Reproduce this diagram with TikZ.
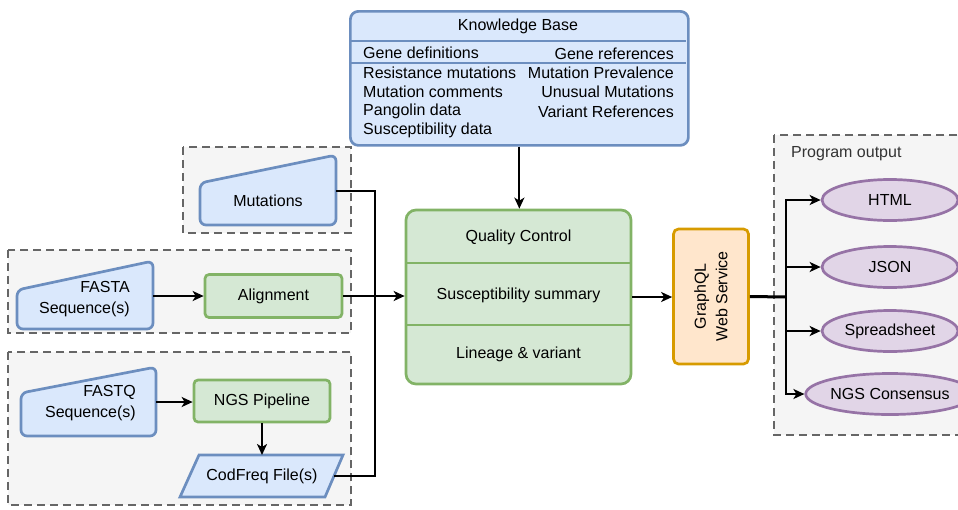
\documentclass[tikz,border=0pt]{standalone}
\usepackage{fontspec}
\setmainfont{Liberation Sans}
\usetikzlibrary{shapes.geometric,arrows.meta}
\definecolor{bluefill}{HTML}{DAE8FC}
\definecolor{bluedraw}{HTML}{6C8EBF}
\definecolor{greenfill}{HTML}{D5E8D4}
\definecolor{greendraw}{HTML}{82B366}
\definecolor{purplefill}{HTML}{E1D5E7}
\definecolor{purpledraw}{HTML}{9673A6}
\definecolor{orangefill}{HTML}{FFE6CC}
\definecolor{orangedraw}{HTML}{D79B00}
\definecolor{groupfill}{HTML}{F5F5F5}
\definecolor{groupdraw}{HTML}{666666}
\begin{document}
\begin{tikzpicture}[x=1pt,y=-1pt,
 font=\fontsize{16}{21.5}\selectfont,
 group/.style={draw=groupdraw, fill=groupfill, line width=2.7pt, dash pattern=on 8pt off 5pt},
 bluebox/.style={draw=bluedraw, fill=bluefill, line width=2.7pt, rounded corners=6pt, line join=round},
 greenbox/.style={draw=greendraw, fill=greenfill, line width=2.7pt, rounded corners=4pt, inner sep=0pt},
 outell/.style={ellipse, draw=purpledraw, fill=purplefill, line width=2.7pt, minimum width=136pt, minimum height=41pt, inner sep=0pt},
 conn/.style={line width=2pt},
 arr/.style={conn, -{Stealth[length=11pt,width=10pt,inset=3pt]}},
 txt/.style={inner sep=0pt}
]
\useasboundingbox (0,0) rectangle (958,509);
\clip (0,0) rectangle (958,509);

% groups
\draw[group] (183,147) rectangle (351,233);
\draw[group] (8,250) rectangle (351,333);
\draw[group] (8,352) rectangle (351,505);
\draw[group] (774,135) rectangle (975,435);
\node[txt, anchor=west, text=black!80] (pout) at (791,154) {Program output};

% knowledge base
\node[bluebox, rounded corners=8pt, minimum width=338pt, minimum height=134pt, anchor=north west, inner sep=0pt] (kb) at (349,10) {};
\draw[bluedraw, line width=2.7pt] (350.4,41) -- (685.6,41);
\draw[bluedraw, line width=2pt] (350.4,63) -- (685.6,63);
\node[txt] (kbt) at (518,26) {Knowledge Base};
\node[txt, anchor=west] (k1) at (363,53) {Gene definitions};
\node[txt, anchor=west] (k2) at (363,73) {Resistance mutations};
\node[txt, anchor=west] (k3) at (363,92) {Mutation comments};
\node[txt, anchor=west] (k4) at (363,111) {Pangolin data};
\node[txt, anchor=west] (k5) at (363,130.5) {Susceptibility data};
\node[txt, anchor=east] (k6) at (674,54) {Gene references};
\node[txt, anchor=east] (k7) at (674,73) {Mutation Prevalence};
\node[txt, anchor=east] (k8) at (674,92) {Unusual Mutations};
\node[txt, anchor=east] (k9) at (674,112) {Variant References};

% mutations
\draw[bluebox] (200,183) -- (336,155) -- (336,225) -- (200,225) -- cycle;
\node[txt] (mut) at (268,201) {Mutations};
\coordinate (mutout) at (336,191);

% FASTA
\draw[bluebox] (17,290) -- (153,261) -- (153,329) -- (17,329) -- cycle;
\node[txt, anchor=east, align=right] (fasta) at (130,299) {FASTA\\Sequence(s)};
\coordinate (fastaout) at (153,296);
\node[greenbox, minimum width=137pt, minimum height=43pt] (align) at (273.5,296) {Alignment};

% FASTQ
\draw[bluebox] (21,393) -- (156,367) -- (156,436) -- (21,436) -- cycle;
\node[txt, anchor=east, align=right] (fastq) at (136,403) {FASTQ\\Sequence(s)};
\coordinate (fastqout) at (156,402);
\node[greenbox, minimum width=136pt, minimum height=42pt] (ngs) at (262,401) {NGS Pipeline};
\draw[bluebox, rounded corners=0pt, line join=miter] (199,455) -- (343,455) -- (325,497) -- (180,497) -- cycle;
\node[txt] (cod) at (262,476) {CodFreq File(s)};
\coordinate (codin) at (262,455);
\coordinate (codout) at (334,476);

% main box
\node[greenbox, rounded corners=10pt, minimum width=225pt, minimum height=174pt] (main) at (518.5,297) {};
\draw[greendraw, line width=2.7pt] (407.4,263) -- (629.6,263);
\draw[greendraw, line width=2.7pt] (407.4,325) -- (629.6,325);
\node[txt] (qc) at (518.5,237) {Quality Control};
\node[txt] (ss) at (518.5,295) {Susceptibility summary};
\node[txt] (lv) at (518.5,354) {Lineage \& variant};

% GraphQL
\node[draw=orangedraw, fill=orangefill, line width=2.7pt, rounded corners=5pt, minimum width=75pt, minimum height=135pt, inner sep=0pt] (gql) at (711,296.5) {};
\node[txt, rotate=90, align=center] (gqlt) at (gql) {GraphQL\\Web Service};

% outputs
\node[outell] (html) at (890,200) {HTML};
\node[outell] (json) at (890,267) {JSON};
\node[outell] (sheet) at (890,331) {Spreadsheet};
\node[outell] (cons) at (890,394) {NGS Consensus};

% connectors
\coordinate (bus) at (375,296);
\coordinate (br) at (786,297);
\draw[arr] (fastaout) -- (align.west |- fastaout);
\draw[arr] (fastqout) -- (ngs.west |- fastqout);
\draw[arr] (ngs.south) -- (codin);
\draw[conn] (mutout) -| (bus);
\draw[conn] (codout) -| (bus);
\draw[arr] (align.east) -- (align.east -| main.west);
\draw[arr] (kb.south) -- (kb.south |- main.north);
\draw[arr] (main.east) -- (main.east -| gql.west);
\draw[line width=3pt] (gql.east) -- (br);
\draw[arr] (br) |- (html.west);
\draw[arr] (br) |- (json.west);
\draw[arr] (br) |- (sheet.west);
\draw[arr] (br) |- (cons.west);
\end{tikzpicture}
\end{document}
